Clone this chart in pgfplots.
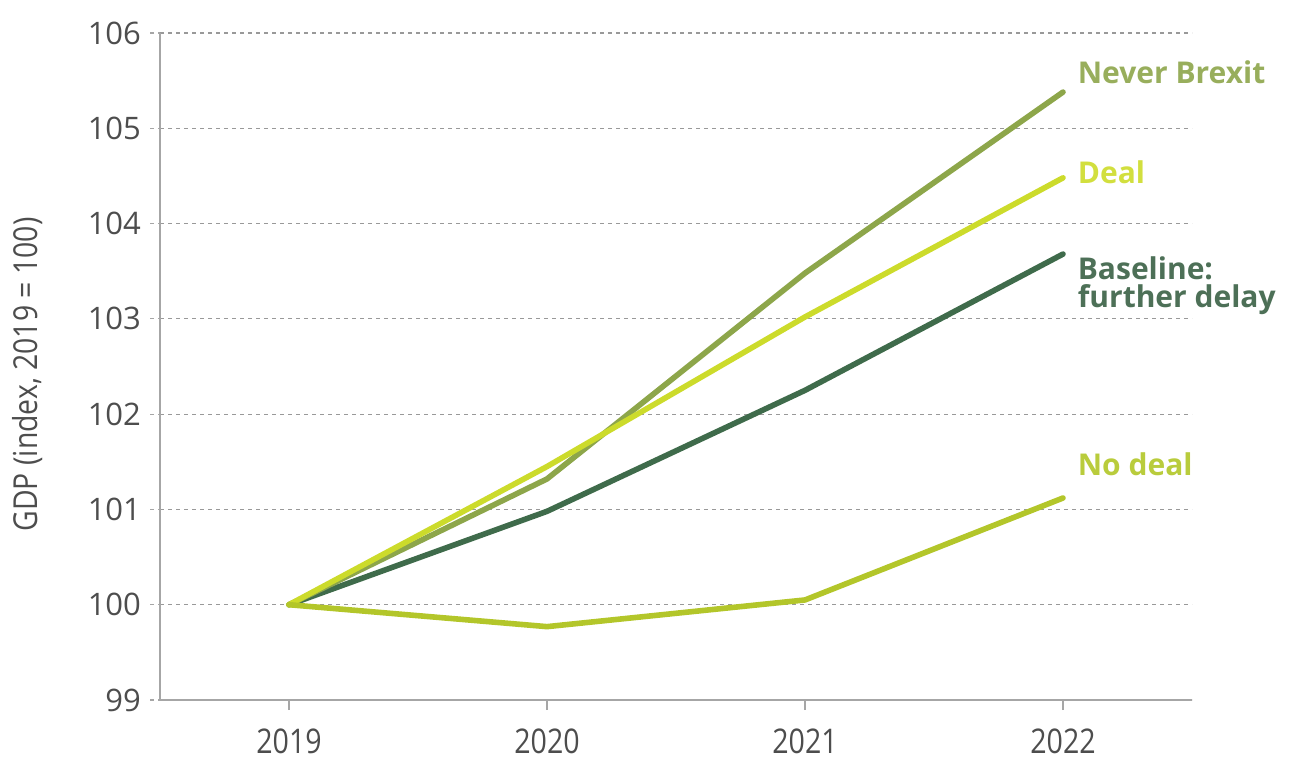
\documentclass[border=0pt]{standalone}
\usepackage{fontspec}
\setmainfont{Open Sans}
\usepackage{graphicx}
\usepackage{pgfplots}
\pgfplotsset{compat=1.18}

\definecolor{neverc}{HTML}{8DA64A}
\definecolor{nevert}{HTML}{98AE5C}
\definecolor{dealc}{HTML}{CCDB2B}
\definecolor{dealt}{HTML}{D2DF3E}
\definecolor{basec}{HTML}{3F6B4B}
\definecolor{baset}{HTML}{4D7057}
\definecolor{nodealc}{HTML}{B3C62A}
\definecolor{nodealt}{HTML}{B9CC3C}
\definecolor{axc}{HTML}{A6A6A6}
\definecolor{txt}{HTML}{4D4D4D}

\newcommand{\cond}[1]{\scalebox{0.84}[1]{#1}}

\begin{document}
\begin{tikzpicture}
  \path[use as bounding box] (0,0) rectangle (644.5pt,380.5pt);
  \begin{axis}[
      at={(80pt,30.5pt)}, anchor=south west,
      scale only axis,
      width=516pt, height=333.5pt,
      xmin=2018.5, xmax=2022.5,
      ymin=99, ymax=106,
      axis lines=left,
      axis line style={draw=axc, line width=0.8pt, -},
      xtick={2019,2020,2021,2022},
      xticklabels={\cond{2019},\cond{2020},\cond{2021},\cond{2022}},
      ytick={99,100,...,106},
      xticklabel style={text=txt, font=\fontsize{17}{20}\selectfont, yshift=-6pt},
      yticklabel style={text=txt, font=\fontsize{15.5}{18}\selectfont, xshift=-1pt},
      /pgf/number format/assume math mode=true,
      /pgf/number format/1000 sep={},
      tick align=outside,
      x tick style={draw=axc, line width=0.6pt},
      y tick style={draw=axc, line width=0.6pt, dash pattern=on 2pt off 2pt},
      major tick length=5pt,
      ymajorgrids,
      grid style={draw=gray!80, line width=0.6pt, dash pattern=on 2pt off 2pt},
      clip=false,
    ]
    \addplot[basec, line width=2.8pt, line cap=round, line join=round] coordinates {(2019,100) (2020,100.98) (2021,102.25) (2022,103.68)};
    \addplot[neverc, line width=2.8pt, line cap=round, line join=round] coordinates {(2019,100) (2020,101.32) (2021,103.48) (2022,105.38)};
    \addplot[dealc, line width=2.8pt, line cap=round, line join=round] coordinates {(2019,100) (2020,101.45) (2021,103.02) (2022,104.48)};
    \addplot[nodealc, line width=2.8pt, line cap=round, line join=round] coordinates {(2019,100) (2020,99.77) (2021,100.05) (2022,101.12)};

    \node[anchor=west, text=nevert, font=\bfseries\fontsize{15}{18}\selectfont] at (axis cs:2022.03,105.59) {Never Brexit};
    \node[anchor=west, text=dealt, font=\bfseries\fontsize{15}{18}\selectfont] at (axis cs:2022.03,104.54) {Deal};
    \node[anchor=west, text=baset, font=\bfseries\fontsize{15}{14}\selectfont, align=left] at (axis cs:2022.03,103.35) {Baseline:\\further delay};
    \node[anchor=west, text=nodealt, font=\bfseries\fontsize{15}{18}\selectfont] at (axis cs:2022.03,101.47) {No deal};

    \node[rotate=90, anchor=center, text=txt, font=\fontsize{16.5}{19}\selectfont] at ([xshift=-66pt,yshift=-4pt]rel axis cs:0,0.5) {\scalebox{0.86}[1]{GDP (index, 2019 = 100)}};
  \end{axis}
\end{tikzpicture}
\end{document}
